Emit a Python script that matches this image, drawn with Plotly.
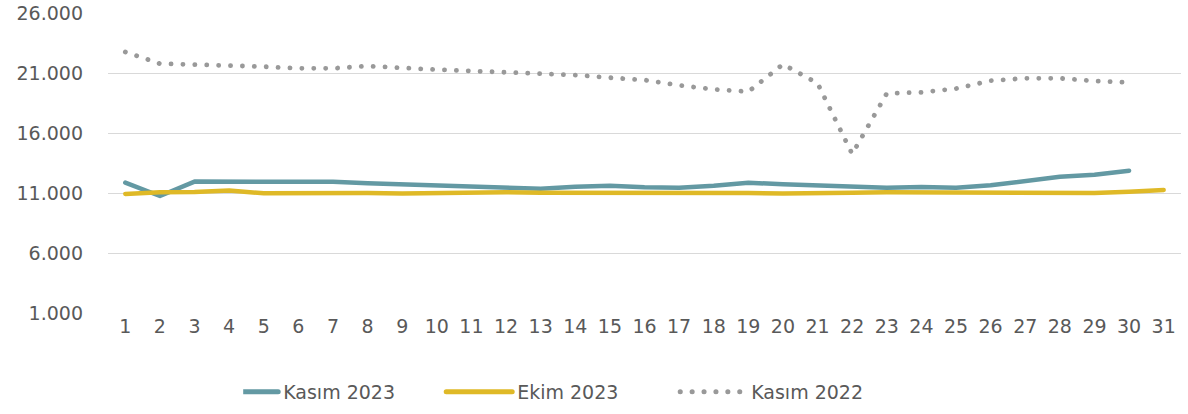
import plotly.graph_objects as go

days = [str(d) for d in range(1, 32)]

kasim_2023 = [11860, 10750, 11950, 11970, 11950, 11940, 11940, 11810, 11720, 11600,
              11500, 11390, 11360, 11530, 11600, 11470, 11440, 11610, 11860, 11720,
              11610, 11520, 11440, 11500, 11440, 11640, 12000, 12360, 12530, 12860]

ekim_2023 = [10920, 11060, 11080, 11200, 10980, 10980, 11060, 11000, 10950, 11000,
             11060, 11060, 11030, 11030, 11030, 11030, 11060, 11060, 11000, 10950,
             10950, 11030, 11060, 11060, 11000, 10980, 10980, 10970, 11000, 11100,
             11250]

kasim_2022 = [22750, 21780, 21700, 21640, 21530, 21390, 21390, 21580, 21390, 21280,
              21170, 21060, 20950, 20830, 20610, 20420, 19970, 19640, 19440, 21725,
              20140, 14250, 19300, 19390, 19700, 20360, 20560, 20560, 20330, 20220]

y_ticks = [1000, 6000, 11000, 16000, 21000, 26000]

font_family = "Century Gothic, DejaVu Sans, sans-serif"
text_color = "#595959"
fs = 19

fig = go.Figure()
fig.add_trace(go.Scatter(x=days[:len(kasim_2023)], y=kasim_2023, name="Kasım 2023",
                         mode="lines", line=dict(color="#6399A3", width=4.5)))
fig.add_trace(go.Scatter(x=days[:len(ekim_2023)], y=ekim_2023, name="Ekim 2023",
                         mode="lines", line=dict(color="#DFB927", width=4.5)))
fig.add_trace(go.Scatter(x=days[:len(kasim_2022)], y=kasim_2022, name="Kasım 2022",
                         mode="lines", line=dict(color="#999999", width=4.8, dash="0.1px,11.8px")))

fig.update_layout(
    width=1188, height=414,
    margin=dict(l=108, r=7, t=13, b=101, autoexpand=False),
    plot_bgcolor="white", paper_bgcolor="white",
    separators=",.",
    font=dict(family=font_family, size=fs, color=text_color),
    showlegend=True,
    legend=dict(orientation="h", x=0.126, xanchor="left", y=-0.2, yanchor="top",
                font=dict(size=fs, color=text_color),
                entrywidth=189, entrywidthmode="pixels",
                traceorder="normal", borderwidth=0, bgcolor="rgba(0,0,0,0)"),
    xaxis=dict(type="category", categoryorder="array", categoryarray=days,
               showgrid=False, showline=False, ticks="", tickfont=dict(size=fs),
               range=[-0.5, 30.5], automargin=False),
    yaxis=dict(range=[1000, 26000], tickvals=y_ticks, tickformat=",.0f",
               showgrid=True, gridcolor="#D9D9D9", gridwidth=1.3,
               zeroline=False, showline=False, ticks="", ticklabelstandoff=24,
               tickfont=dict(size=fs), automargin=False),
)

post = """
document.body.style.margin = '0';
var gd = document.getElementsByClassName('plotly-graph-div')[0];
function rc(){
  gd.querySelectorAll('path.js-line').forEach(function(p){p.style.strokeLinecap='round';p.style.strokeLinejoin='round';});
  gd.querySelectorAll('.legendlines path').forEach(function(p){p.setAttribute('d','M-31,0h66');p.style.strokeLinecap='round';p.style.strokeWidth='5px';});
}
rc(); gd.on('plotly_afterplot', rc);
"""
fig.write_html("out.html", post_script=post, config={"displayModeBar": False})
